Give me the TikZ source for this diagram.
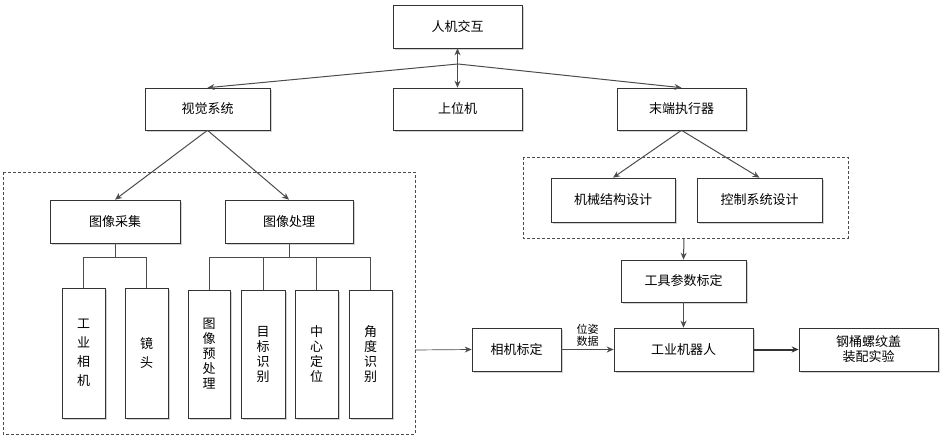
\documentclass[tikz,border=0pt]{standalone}
\usepackage{fontspec}
\setmainfont{Noto Sans CJK SC}
\usetikzlibrary{arrows.meta,shadows}
\begin{document}
\begin{tikzpicture}[x=1pt,y=-1pt,
 bx/.style={draw=black!80,fill=white,line width=0.6pt,drop shadow={shadow xshift=1.5pt,shadow yshift=-1.5pt,fill=black!35},font=\fontsize{13}{15}\selectfont,align=center,inner sep=0pt},
 ar/.style={draw=black!70,line width=1pt,-{Stealth[length=7pt,width=6pt]}},
 ln/.style={draw=black!70,line width=0.8pt},
 dsh/.style={draw=black!70,densely dashed,line width=0.5pt}]
\useasboundingbox (0,0) rectangle (943,439);
\newcommand\bbox[6]{\node[bx,minimum width=#4-#2,minimum height=#5-#3] (#1) at ({(#2+#4)/2},{(#3+#5)/2}) {#6};}
\draw[dsh] (3,172) rectangle (415,434);
\draw[dsh] (523,157) rectangle (848,238);
\coordinate (dl) at (415,350);
\coordinate (dr) at (684,238);
\bbox{hmi}{393}{5}{522}{48}{人机交互}
\bbox{vis}{145}{88}{270}{130}{视觉系统}
\bbox{pc}{393}{88}{522}{130}{上位机}
\bbox{eff}{617}{88}{746}{130}{末端执行器}
\bbox{acq}{50}{200}{180}{243}{图像采集}
\bbox{proc}{225}{200}{353}{243}{图像处理}
\bbox{cam}{62}{288}{105}{418}{工\\[4pt]业\\[4pt]相\\[4pt]机}
\bbox{lens}{125}{288}{168}{418}{镜\\[4pt]头}
\bbox{pre}{188}{290}{230}{418}{图\\像\\预\\处\\理}
\bbox{tgt}{241}{290}{285}{418}{目\\标\\识\\别}
\bbox{ctr}{295}{290}{338}{418}{中\\心\\定\\位}
\bbox{ang}{349}{290}{392}{418}{角\\度\\识\\别}
\bbox{mech}{551}{178}{675}{222}{机械结构设计}
\bbox{ctl}{697}{178}{822}{222}{控制系统设计}
\bbox{tool}{621}{260}{746}{302}{工具参数标定}
\bbox{calib}{472}{328}{561}{371}{相机标定}
\bbox{rob}{614}{328}{753}{371}{工业机器人}
\bbox{exp}{799}{328}{938}{371}{钢桶螺纹盖\\装配实验}
\coordinate (hub) at (458,64);
\draw[ar,{Stealth[length=7pt,width=6pt]}-{Stealth[length=7pt,width=6pt]}] (hmi.south) -- (pc.north);
\draw[ar] (hub) -- (vis.north);
\draw[ar] (hub) -- (eff.north);
\draw[ar] (vis.south) -- (acq.north);
\draw[ar] (vis.south) -- (proc.north);
\draw[ar] (eff.south) -- (mech.north);
\draw[ar] (eff.south) -- (ctl.north);
\draw[ln] (acq.south) -- ++(0,14) coordinate (a1);
\draw[ln] (cam.north) |- (a1) -| (lens.north);
\draw[ln] (proc.south) -- ++(0,14) coordinate (p1);
\draw[ln] (pre.north) |- (p1) -| (ang.north);
\draw[ln] (tgt.north) -- (tgt.north|-p1);
\draw[ln] (ctr.north) -- (ctr.north|-p1);
\draw[ar] (dr) -- (tool.north);
\draw[ar] (tool.south) -- (rob.north);
\draw[ar,line width=0.7pt] (dl) -- (calib.west);
\draw[ar] (calib.east) -- node[above,font=\fontsize{11}{12}\selectfont,align=center,inner sep=3pt]{位姿\\数据} (rob.west);
\draw[ar,line width=2pt,black!80] (rob.east) -- (exp.west);
\end{tikzpicture}
\end{document}
